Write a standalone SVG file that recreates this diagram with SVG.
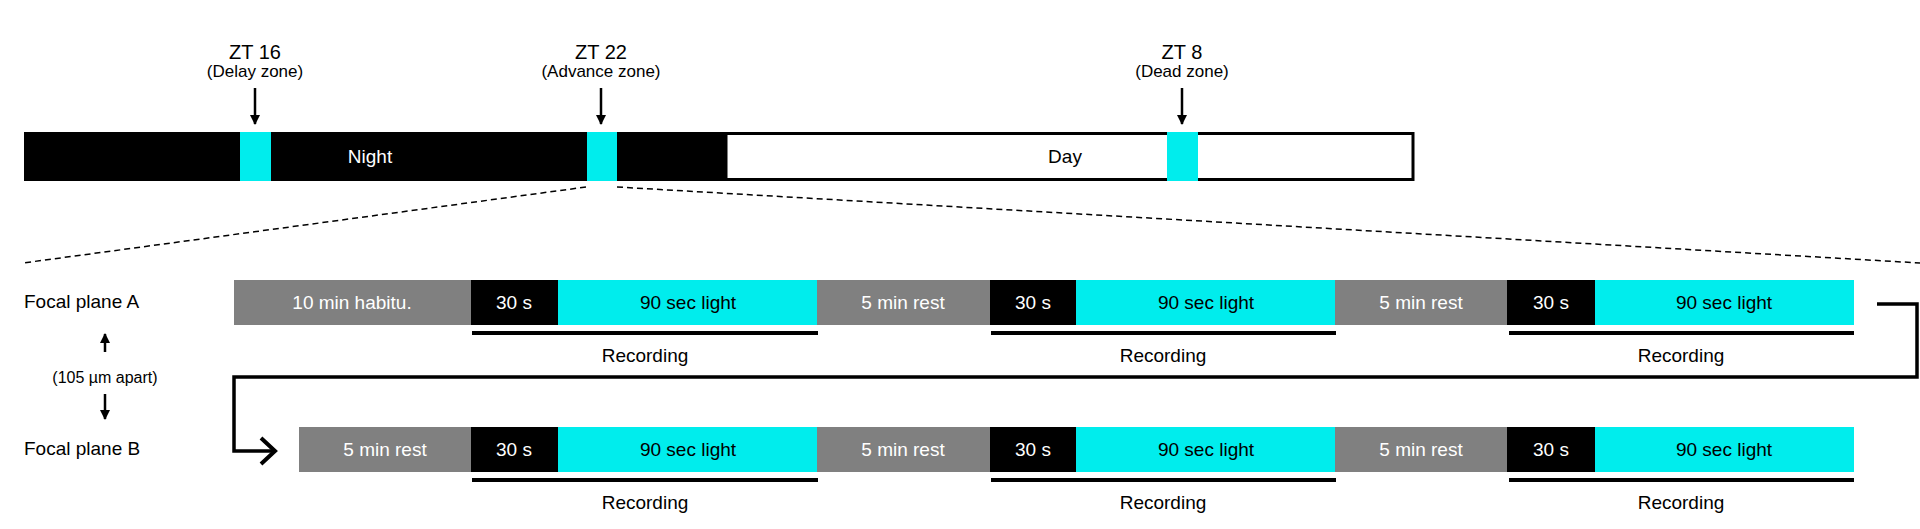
<svg xmlns="http://www.w3.org/2000/svg" width="1920" height="529" viewBox="0 0 1920 529">
<defs>
<style>
text{font-family:"Liberation Sans",Arial,sans-serif;text-anchor:middle;dominant-baseline:central}
.t{font-size:19px}
.w{fill:#fff}
.g{fill:#808080}.k{fill:#000}.c{fill:#00eded}
.rec{stroke:#000;stroke-width:4}
.dash{stroke:#000;stroke-width:1.5;stroke-dasharray:6 4;fill:none}
</style>
<marker id="ah" viewBox="0 0 10 10" refX="9" refY="5" markerWidth="4" markerHeight="4" orient="auto"><path d="M0,0 L10,5 L0,10 z" fill="#000"/></marker>
</defs>
<rect width="1920" height="529" fill="#fff"/>
<g id="timeline">
<rect x="24" y="132" width="702" height="49" fill="#000"/>
<rect x="726" y="133.5" width="687" height="46" fill="#fff" stroke="#000" stroke-width="3"/>
<rect x="240" y="132" width="31" height="49" class="c"/>
<rect x="587" y="132" width="30" height="49" class="c"/>
<rect x="1167" y="132" width="31" height="49" class="c"/>
<text x="370" y="156" class="t w">Night</text>
<text x="1065" y="156" class="t">Day</text>
</g>
<g id="zt16"><text x="255" y="52" font-size="20">ZT 16</text><text x="255" y="71" font-size="17">(Delay zone)</text></g>
<g id="zt22"><text x="601" y="52" font-size="20">ZT 22</text><text x="601" y="71" font-size="17">(Advance zone)</text></g>
<g id="zt8"><text x="1182" y="52" font-size="20">ZT 8</text><text x="1182" y="71" font-size="17">(Dead zone)</text></g>
<g id="labels">
<text x="24" y="301" class="t" style="text-anchor:start">Focal plane A</text>
<text x="24" y="448" class="t" style="text-anchor:start">Focal plane B</text>
<text x="105" y="377" font-size="16">(105 µm apart)</text>
</g>
<g id="rowA">
<rect x="234" y="280" width="237" height="45" class="g"/><text x="352" y="302" class="t w">10 min habitu.</text>
<rect x="471" y="280" width="87" height="45" class="k"/><text x="514" y="302" class="t w">30 s</text>
<rect x="558" y="280" width="259" height="45" class="c"/><text x="688" y="302" class="t">90 sec light</text>
<rect x="817" y="280" width="173" height="45" class="g"/><text x="903" y="302" class="t w">5 min rest</text>
<rect x="990" y="280" width="86" height="45" class="k"/><text x="1033" y="302" class="t w">30 s</text>
<rect x="1076" y="280" width="259" height="45" class="c"/><text x="1206" y="302" class="t">90 sec light</text>
<rect x="1335" y="280" width="172" height="45" class="g"/><text x="1421" y="302" class="t w">5 min rest</text>
<rect x="1507" y="280" width="88" height="45" class="k"/><text x="1551" y="302" class="t w">30 s</text>
<rect x="1595" y="280" width="259" height="45" class="c"/><text x="1724" y="302" class="t">90 sec light</text>
<line x1="472" y1="333" x2="818" y2="333" class="rec"/><text x="645" y="355" class="t">Recording</text>
<line x1="991" y1="333" x2="1336" y2="333" class="rec"/><text x="1163" y="355" class="t">Recording</text>
<line x1="1509" y1="333" x2="1854" y2="333" class="rec"/><text x="1681" y="355" class="t">Recording</text>
</g>
<g id="rowB">
<rect x="299" y="427" width="172" height="45" class="g"/><text x="385" y="449" class="t w">5 min rest</text>
<rect x="471" y="427" width="87" height="45" class="k"/><text x="514" y="449" class="t w">30 s</text>
<rect x="558" y="427" width="259" height="45" class="c"/><text x="688" y="449" class="t">90 sec light</text>
<rect x="817" y="427" width="173" height="45" class="g"/><text x="903" y="449" class="t w">5 min rest</text>
<rect x="990" y="427" width="86" height="45" class="k"/><text x="1033" y="449" class="t w">30 s</text>
<rect x="1076" y="427" width="259" height="45" class="c"/><text x="1206" y="449" class="t">90 sec light</text>
<rect x="1335" y="427" width="172" height="45" class="g"/><text x="1421" y="449" class="t w">5 min rest</text>
<rect x="1507" y="427" width="88" height="45" class="k"/><text x="1551" y="449" class="t w">30 s</text>
<rect x="1595" y="427" width="259" height="45" class="c"/><text x="1724" y="449" class="t">90 sec light</text>
<line x1="472" y1="480" x2="818" y2="480" class="rec"/><text x="645" y="502" class="t">Recording</text>
<line x1="991" y1="480" x2="1336" y2="480" class="rec"/><text x="1163" y="502" class="t">Recording</text>
<line x1="1509" y1="480" x2="1854" y2="480" class="rec"/><text x="1681" y="502" class="t">Recording</text>
</g>
<g id="connectors">
<line x1="255" y1="88" x2="255" y2="124" stroke="#000" stroke-width="2.5" marker-end="url(#ah)"/>
<line x1="601" y1="88" x2="601" y2="124" stroke="#000" stroke-width="2.5" marker-end="url(#ah)"/>
<line x1="1182" y1="88" x2="1182" y2="124" stroke="#000" stroke-width="2.5" marker-end="url(#ah)"/>
<line x1="105" y1="352" x2="105" y2="334" stroke="#000" stroke-width="2.5" marker-end="url(#ah)"/>
<line x1="105" y1="394" x2="105" y2="419" stroke="#000" stroke-width="2.5" marker-end="url(#ah)"/>
<line x1="586" y1="187" x2="23" y2="263" class="dash"/>
<line x1="617" y1="187" x2="1920" y2="263" class="dash"/>
<polyline points="1877,304 1917,304 1917,377 234,377 234,451 274,451" fill="none" stroke="#000" stroke-width="3.5"/>
<polyline points="261,438 275,451 261,464" fill="none" stroke="#000" stroke-width="4"/>
</g>
</svg>
